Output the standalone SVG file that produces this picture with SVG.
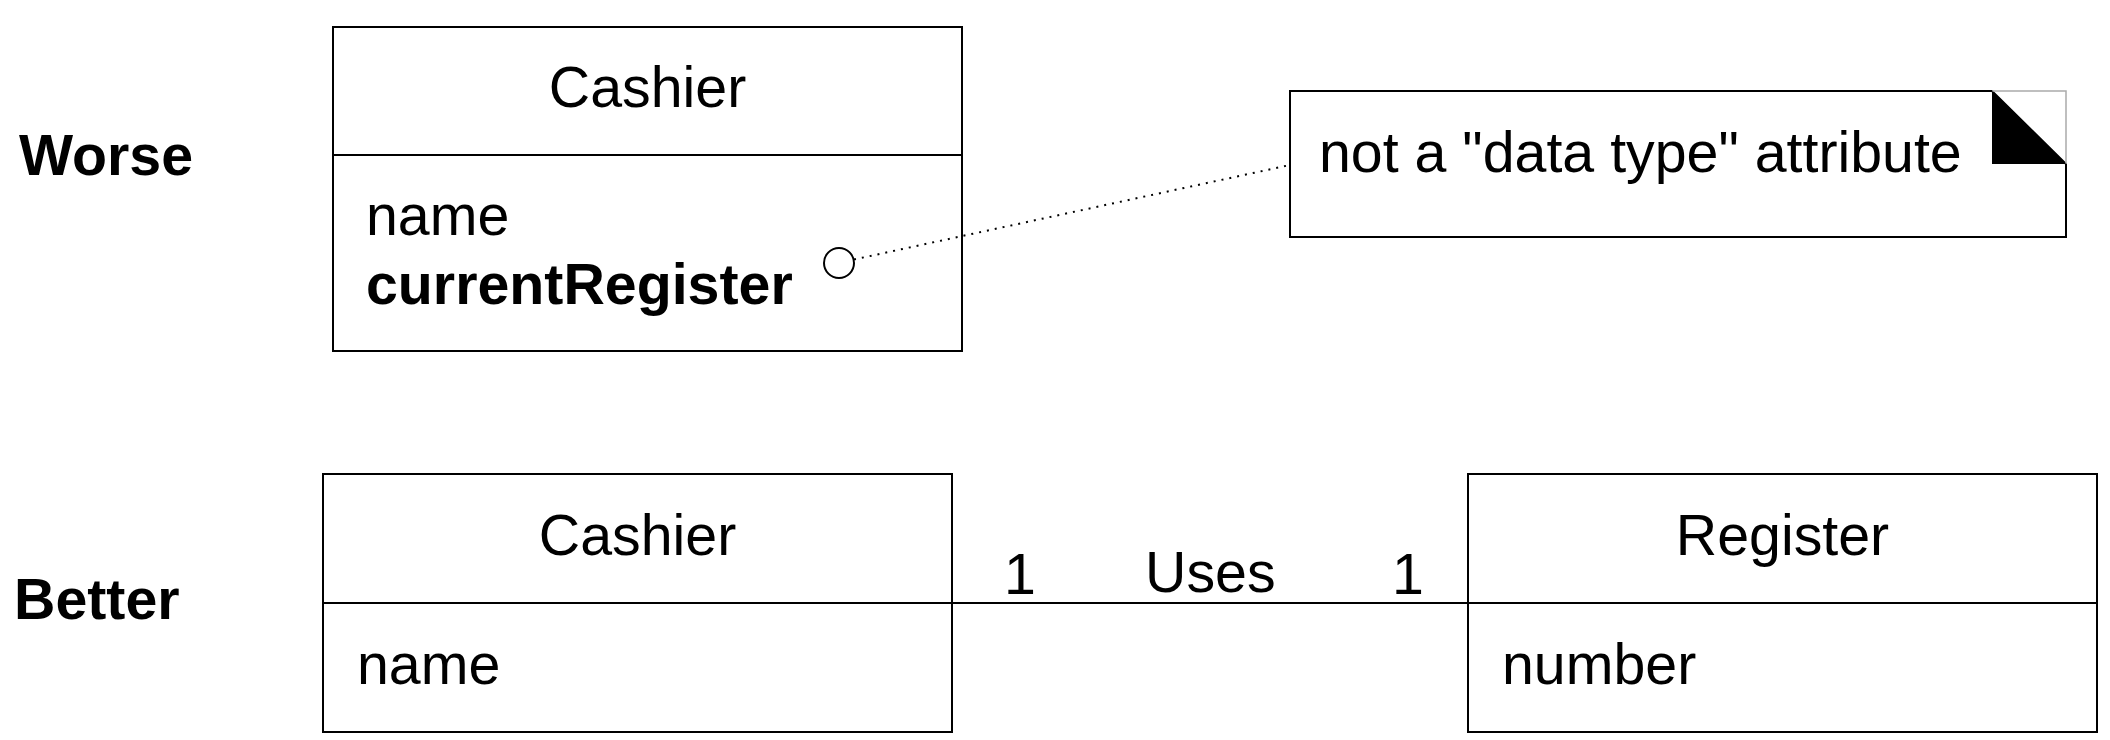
<svg xmlns="http://www.w3.org/2000/svg" width="2110" height="740" viewBox="0 0 2110 740">
<style>
.box{fill:#fff;stroke:#000;stroke-width:2}
.ln{stroke:#000;stroke-width:2;fill:none}
.t{font-family:"Liberation Sans",Arial,sans-serif;font-size:57.3px;fill:#000}
.b{font-weight:bold}
.c{text-anchor:middle}
</style>
<rect width="2110" height="740" fill="#fff"/>
<text class="t b" x="19" y="175">Worse</text>
<text class="t b" x="14" y="619">Better</text>
<g id="cashier-worse">
<rect class="box" x="333" y="27" width="629" height="324"/>
<line class="ln" x1="333" y1="155" x2="962" y2="155"/>
<text class="t c" x="647.5" y="107">Cashier</text>
<text class="t" x="366" y="235">name</text>
<text class="t b" x="366" y="304">currentRegister</text>
</g>
<g id="note">
<path class="box" d="M1290,91 H1992 L2066,164 V237 H1290 Z"/>
<path d="M1992,91 H2066 V164" fill="none" stroke="#aaa" stroke-width="1.5"/>
<path d="M1992,91 L2066,164 H1992 Z" fill="#000"/>
<text class="t" x="1319" y="172">not a "data type" attribute</text>
</g>
<g id="cashier-better">
<rect class="box" x="323" y="474" width="629" height="258"/>
<line class="ln" x1="323" y1="603" x2="952" y2="603"/>
<text class="t c" x="637.5" y="555">Cashier</text>
<text class="t" x="357" y="684">name</text>
</g>
<g id="register">
<rect class="box" x="1468" y="474" width="629" height="258"/>
<line class="ln" x1="1468" y1="603" x2="2097" y2="603"/>
<text class="t c" x="1782.5" y="555">Register</text>
<text class="t" x="1502" y="684">number</text>
</g>
<g id="connectors">
<circle cx="839" cy="263" r="15" fill="#fff" stroke="#000" stroke-width="2"/>
<line x1="854" y1="259.5" x2="1290" y2="165" stroke="#000" stroke-width="2" stroke-dasharray="2 6"/>
<line class="ln" x1="952" y1="603" x2="1468" y2="603"/>
<text class="t" x="1004" y="594">1</text>
<text class="t" x="1145" y="592">Uses</text>
<text class="t" x="1392" y="594">1</text>
</g>
</svg>
